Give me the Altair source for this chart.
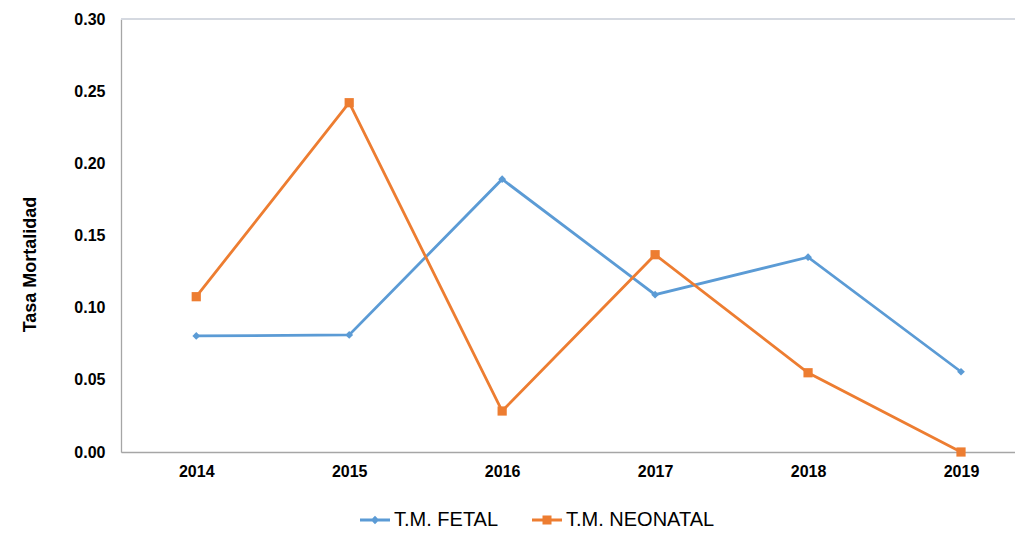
import altair as alt
import pandas as pd

years = [2014, 2015, 2016, 2017, 2018, 2019]
series = ["T.M. FETAL", "T.M. NEONATAL"]
fetal = [0.0804, 0.0811, 0.189, 0.109, 0.135, 0.0556]
neonatal = [0.1076, 0.242, 0.0284, 0.1367, 0.0549, 0.0]
colors = ["#5B9BD5", "#ED7D31"]
y_ticks = [0.0, 0.05, 0.10, 0.15, 0.20, 0.25, 0.30]

rows = []
for y, v in zip(years, fetal):
    rows.append({"year": y, "value": v, "serie": series[0]})
for y, v in zip(years, neonatal):
    rows.append({"year": y, "value": v, "serie": series[1]})
df = pd.DataFrame(rows)

W, H = 894, 433
FONT = "Liberation Sans"

x_enc = alt.X(
    "year:Q",
    scale=alt.Scale(domain=[2013.508, 2019.353], zero=False, nice=False),
    axis=alt.Axis(
        values=years, format="d", title=None, ticks=False, grid=False,
        labelFont=FONT, labelFontSize=16, labelFontWeight="bold", labelColor="#000000",
        labelPadding=11, domainColor="#a6a6a6", domainWidth=1.3,
    ),
)
y_enc = alt.Y(
    "value:Q",
    scale=alt.Scale(domain=[0, 0.3], nice=False),
    axis=alt.Axis(
        values=y_ticks, format=".2f", title="Tasa Mortalidad", ticks=False, grid=False,
        labelFont=FONT, labelFontSize=16, labelFontWeight="bold", labelColor="#000000",
        labelPadding=16, domainColor="#a6a6a6", domainWidth=1.3,
        titleFont=FONT, titleFontSize=18, titleFontWeight="bold", titleColor="#000000",
        titleX=-91, titleY=245, titleAngle=270, titleAlign="center", titleBaseline="middle",
    ),
)

color_plain = alt.Color("serie:N", scale=alt.Scale(domain=series, range=colors), legend=None)

top_rule = alt.Chart(df).mark_rule(color="#d5d9e0", strokeWidth=1.5).encode(
    y=alt.datum(0.3)
)

lines = alt.Chart(df).mark_line(strokeWidth=2.8).encode(x=x_enc, y=y_enc, color=color_plain)

points = alt.Chart(df).mark_point(filled=True, opacity=1).encode(
    x=x_enc, y=y_enc, color=color_plain,
    shape=alt.Shape("serie:N", scale=alt.Scale(domain=series, range=["diamond", "square"]), legend=None),
    size=alt.Size("serie:N", scale=alt.Scale(domain=series, range=[60, 85]), legend=None),
)

diamond_line = ("M-1,-0.1L1,-0.1L1,0.1L-1,0.1Z"
                "M0,-0.28L0.28,0L0,0.28L-0.28,0Z")
square_line = ("M-1,-0.1L1,-0.1L1,0.1L-1,0.1Z"
               "M-0.3,-0.3L0.3,-0.3L0.3,0.3L-0.3,0.3Z")

legend_layer = alt.Chart(df).transform_filter(alt.datum.value < -1).mark_point(filled=True, opacity=1).encode(
    x=x_enc, y=y_enc,
    color=alt.Color(
        "serie:N", scale=alt.Scale(domain=series, range=colors),
        legend=alt.Legend(
            title=None, orient="none", direction="horizontal", legendX=239, legendY=486,
            symbolSize=900, symbolOpacity=1, symbolStrokeWidth=0,
            labelFont=FONT, labelFontSize=20, labelColor="#000000", labelOffset=4,
            columnPadding=33, labelBaseline="middle",
        ),
    ),
    shape=alt.Shape("serie:N", scale=alt.Scale(domain=series, range=[diamond_line, square_line])),
)

chart = (
    alt.layer(top_rule, lines, points, legend_layer)
    .resolve_scale(color="independent", shape="independent")
    .properties(
        width=W, height=H,
        autosize=alt.AutoSizeParams(type="none"),
        padding={"left": 113, "top": 11, "right": 0, "bottom": 79},
    )
    .configure_view(stroke=None)
    .configure(background="#ffffff")
)

chart.save("out.html", embed_options={"renderer": "svg", "actions": False})
